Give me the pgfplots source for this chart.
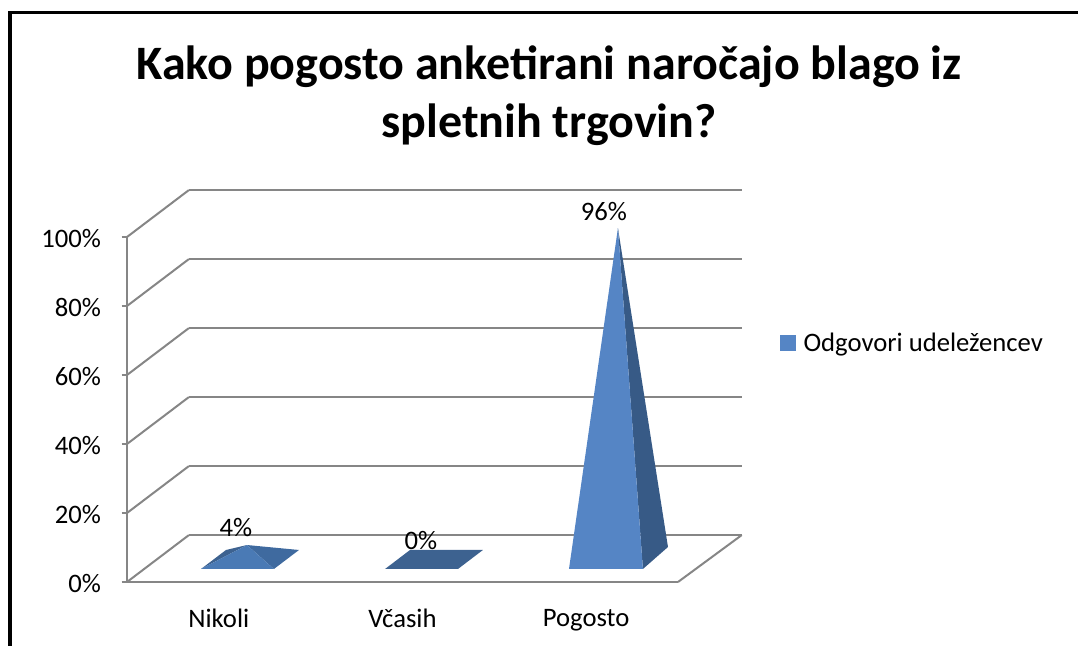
\documentclass[border=0pt]{standalone}
\usepackage{fontspec}
\setmainfont{Carlito}
\usepackage{pgfplots}
\pgfplotsset{compat=1.18}
\definecolor{gridgr}{HTML}{868686}
\definecolor{front}{HTML}{5585C5}
\definecolor{frontb}{HTML}{4A7AB5}
\definecolor{side}{HTML}{375A86}
\definecolor{sideb}{HTML}{3F6A9F}
\definecolor{flat}{HTML}{3D6290}
\begin{document}
\begin{tikzpicture}
\useasboundingbox (-95.25pt,-48pt) rectangle (713.25pt,436.5pt);
% okvir
\fill[black] (-89.4pt,-48pt) rectangle (-86pt,428.25pt);
\fill[black] (-89.4pt,425.8pt) rectangle (713.25pt,428.25pt);
\node[font=\fontsize{36}{43.5}\selectfont\bfseries, align=center, anchor=base] at (316.5pt,333pt)
  {Kako pogosto anketirani naročajo blago iz\\spletnih trgovin?};
\begin{axis}[
  scale only axis,
  width=413.25pt, height=258.75pt,
  xmin=-0.5, xmax=2.5, ymin=0, ymax=100,
  clip=false,
  axis x line=bottom, axis y line=left,
  axis line style={-, gridgr, line width=1.9pt},
  xtick={0,1,2},
  xticklabels={Nikoli,Včasih,Pogosto},
  minor xtick={-0.5,0.5,1.5,2.5},
  ytick={0,20,40,60,80,100},
  yticklabels={0\%,20\%,40\%,60\%,80\%,100\%},
  tick align=outside,
  major tick length=4pt, minor tick length=6pt,
  xtick style={draw=none},
  minor tick style={gridgr, line width=1.2pt},
  ytick style={gridgr, line width=1.2pt},
  ticklabel style={font=\fontsize{20}{24}\selectfont},
  xticklabel style={yshift=-13pt},
  yticklabel style={xshift=-12pt, yshift=-1.5pt},
  unbounded coords=jump,
  legend style={at={(1.185,0.693)}, anchor=west, draw=none, fill=none,
    font=\fontsize{20}{24}\selectfont, inner sep=0pt},
  legend image code/.code={\fill[front] (0pt,-6pt) rectangle (12pt,6pt);},
]
% stene: y + globina 13.6
\addplot[gridgr, line width=1.9pt, forget plot] coordinates {
  (-0.163,13.6) (2.847,13.6) (nan,nan)
  (-0.163,33.6) (2.847,33.6) (nan,nan)
  (-0.163,53.6) (2.847,53.6) (nan,nan)
  (-0.163,73.6) (2.847,73.6) (nan,nan)
  (-0.163,93.6) (2.847,93.6) (nan,nan)
  (-0.163,113.6) (2.847,113.6)
};
\addplot[gridgr, line width=1.5pt, forget plot] coordinates {
  (-0.5,0) (-0.163,13.6) (nan,nan)
  (-0.5,20) (-0.163,33.6) (nan,nan)
  (-0.5,40) (-0.163,53.6) (nan,nan)
  (-0.5,60) (-0.163,73.6) (nan,nan)
  (-0.5,80) (-0.163,93.6) (nan,nan)
  (-0.5,100) (-0.163,113.6) (nan,nan)
  (2.5,0) (2.847,13.6)
};
% Nikoli 4 %
\addplot[fill=flat, draw=none, forget plot] coordinates {(-0.097,3.77) (0.039,9.28) (0.153,10.72)} --cycle;
\addplot[fill=sideb, draw=none, forget plot] coordinates {(0.300,3.77) (0.4365,9.28) (0.153,10.72)} --cycle;
\addplot[fill=frontb, draw=none, forget plot] coordinates {(-0.097,3.77) (0.300,3.77) (0.153,10.72)} --cycle;
% Včasih 0 %
\addplot[fill=flat, draw=none, forget plot] coordinates {(0.905,3.77) (1.302,3.77) (1.438,9.28) (1.041,9.28)} --cycle;
% Pogosto 96 %
\addplot[fill=side, draw=none, forget plot] coordinates {(2.309,3.77) (2.4455,10.14) (2.173,102.6)} --cycle;
\addplot[fill=front, draw=none] coordinates {(1.9065,3.77) (2.309,3.77) (2.173,102.6)} --cycle;
\addlegendentry{\hspace{3.5pt}Odgovori udeležencev}
% oznake
\addplot[draw=none, forget plot, point meta=explicit symbolic,
  nodes near coords, nodes near coords align={anchor=center},
  every node near coord/.style={font=\fontsize{20}{24}\selectfont, inner sep=0pt}]
  table[meta=label, row sep=\\] {
  x y label\\
  0.093 15.9 4\%\\
  1.10 11.9 0\%\\
  2.097 107.5 96\%\\
};
\end{axis}
\end{tikzpicture}
\end{document}
